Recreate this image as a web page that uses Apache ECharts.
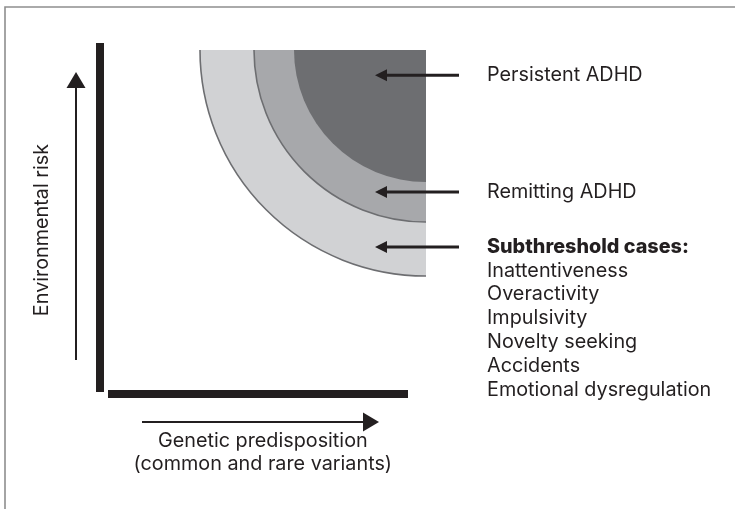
<!DOCTYPE html>
<html>
<head>
<meta charset="utf-8">
<script src="https://cdn.jsdelivr.net/npm/echarts@6/dist/echarts.min.js"></script>
<style>
html,body{margin:0;padding:0;background:#fff;}
#c{width:735px;height:509px;}
</style>
</head>
<body>
<div id="c"></div>
<script>
// ---- data (in conceptual axis units: genetic predisposition x, environmental risk y) ----
const corner = [8, 8.5];                       // high-risk corner of the diagram
const bandNames = ['Subthreshold cases', 'Remitting ADHD', 'Persistent ADHD'];
const bandRadius = [5.65, 4.3, 3.3];           // reach of each band from the corner
const bandColors = ['#d1d2d4', '#a7a8ab', '#6d6e71'];
const bandOutlined = [true, true, false];

const pointerLabels = ['Persistent ADHD', 'Remitting ADHD', 'Subthreshold cases:'];
const pointerY = [7.87, 4.95, 3.575];
const pointerFromX = 8.825;
const pointerToX = 6.725;
const labelX = 9.525;
const subthresholdItems = ['Inattentiveness', 'Overactivity', 'Impulsivity', 'Novelty seeking', 'Accidents', 'Emotional dysregulation'];

const axisBars = [[-0.15, -0.05, -0.15, 8.675], [0.05, -0.1, 7.55, -0.1]];
const axisArrows = [[-0.75, 0.75, -0.75, 7.95], [0.9, -0.8, 6.825, -0.8]];
const yTitle = 'Environmental risk';
const yTitlePos = [-1.6, 4.0];
const xTitle = ['Genetic predisposition', '(common and rare variants)'];
const xTitlePos = [3.92, -1.56];

// ---- build ----
const FONT = 'Inter, "Noto Sans", sans-serif';
const FS = 19.8;
const INK = '#231f20';

const bandData = bandNames.map((n, i) => ({ name: n, value: [corner[0], corner[1], bandRadius[i], i] }));
const pointerData = pointerY.map(y => [pointerFromX, y, pointerToX, y]);

function arrowItem(api, lw, headLen, headW) {
  const a = api.coord([api.value(0), api.value(1)]);
  const b = api.coord([api.value(2), api.value(3)]);
  const dx = b[0] - a[0], dy = b[1] - a[1];
  const L = Math.sqrt(dx * dx + dy * dy);
  const ux = dx / L, uy = dy / L;
  const bx = b[0] - ux * headLen, by = b[1] - uy * headLen;
  const px = -uy * headW / 2, py = ux * headW / 2;
  return {
    type: 'group',
    children: [
      { type: 'line', shape: { x1: a[0], y1: a[1], x2: bx + ux * 2, y2: by + uy * 2 }, style: { stroke: INK, lineWidth: lw } },
      { type: 'polygon', shape: { points: [[b[0], b[1]], [bx + px, by + py], [bx - px, by - py]] }, style: { fill: INK } }
    ]
  };
}

const option = {
  animation: false,
  backgroundColor: '#fff',
  grid: { left: 106, top: 50, width: 320, height: 340 },
  xAxis: { type: 'value', min: 0, max: 8, show: false },
  yAxis: { type: 'value', min: 0, max: 8.5, show: false },
  graphic: [{
    type: 'polyline', silent: true,
    shape: { points: [[5, 520], [5, 7], [745, 7]] },
    style: { stroke: '#8e8e8e', lineWidth: 1.6, fill: null }
  }],
  series: [
    {
      type: 'custom', name: 'bands', clip: false,
      data: bandData,
      renderItem: function (params, api) {
        const c = api.coord([api.value(0), api.value(1)]);
        const r = api.size([api.value(2), 0])[0];
        const i = api.value(3);
        const children = [{
          type: 'sector',
          shape: { cx: c[0], cy: c[1], r0: 0, r: r, startAngle: Math.PI / 2, endAngle: Math.PI, clockwise: true },
          style: { fill: bandColors[i], stroke: null }
        }];
        if (bandOutlined[i]) {
          children.push({
            type: 'arc',
            shape: { cx: c[0], cy: c[1], r: r, startAngle: Math.PI / 2, endAngle: Math.PI, clockwise: true },
            style: { stroke: '#6d6e71', lineWidth: 1.6, fill: null }
          });
        }
        return { type: 'group', children: children };
      }
    },
    {
      type: 'custom', name: 'axisBars', clip: false,
      data: axisBars,
      renderItem: function (params, api) {
        const a = api.coord([api.value(0), api.value(1)]);
        const b = api.coord([api.value(2), api.value(3)]);
        return { type: 'line', shape: { x1: a[0], y1: a[1], x2: b[0], y2: b[1] }, style: { stroke: INK, lineWidth: 8, lineCap: 'butt' } };
      }
    },
    {
      type: 'custom', name: 'axisArrows', clip: false,
      data: axisArrows,
      renderItem: function (params, api) { return arrowItem(api, 2, 16, 19); }
    },
    {
      type: 'custom', name: 'pointers', clip: false,
      data: pointerData,
      renderItem: function (params, api) { return arrowItem(api, 3, 12, 12); }
    },
    {
      type: 'custom', name: 'labels', clip: false,
      data: pointerLabels.map((t, i) => [labelX, pointerY[i], i]),
      renderItem: function (params, api) {
        const p = api.coord([api.value(0), api.value(1)]);
        const i = api.value(2);
        if (i < 2) {
          return { type: 'text', x: p[0], y: p[1], style: { text: pointerLabels[i], font: FS + 'px ' + FONT, fill: INK, verticalAlign: 'middle', align: 'left' } };
        }
        const txt = '{b|' + pointerLabels[i] + '}\n' + subthresholdItems.join('\n');
        return {
          type: 'text', x: p[0], y: p[1] - 12,
          style: {
            text: txt, font: FS + 'px ' + FONT, fill: INK, lineHeight: 23.8, verticalAlign: 'top', align: 'left',
            rich: { b: { fontWeight: 800, fontSize: FS, fontFamily: FONT, fill: INK, lineHeight: 23.8 } }
          }
        };
      }
    },
    {
      type: 'custom', name: 'axisTitles', clip: false,
      data: [[yTitlePos[0], yTitlePos[1], 0], [xTitlePos[0], xTitlePos[1], 1]],
      renderItem: function (params, api) {
        const p = api.coord([api.value(0), api.value(1)]);
        if (api.value(2) === 0) {
          return { type: 'text', x: p[0], y: p[1], rotation: Math.PI / 2, style: { text: yTitle, font: FS + 'px ' + FONT, fill: INK, align: 'center', verticalAlign: 'middle' } };
        }
        return { type: 'text', x: p[0], y: p[1], style: { text: xTitle.join('\n'), font: FS + 'px ' + FONT, fill: INK, align: 'center', verticalAlign: 'middle', lineHeight: 23 } };
      }
    }
  ]
};

const chart = echarts.init(document.getElementById('c'), null, { renderer: 'canvas' });
chart.setOption(option);
</script>
</body>
</html>
